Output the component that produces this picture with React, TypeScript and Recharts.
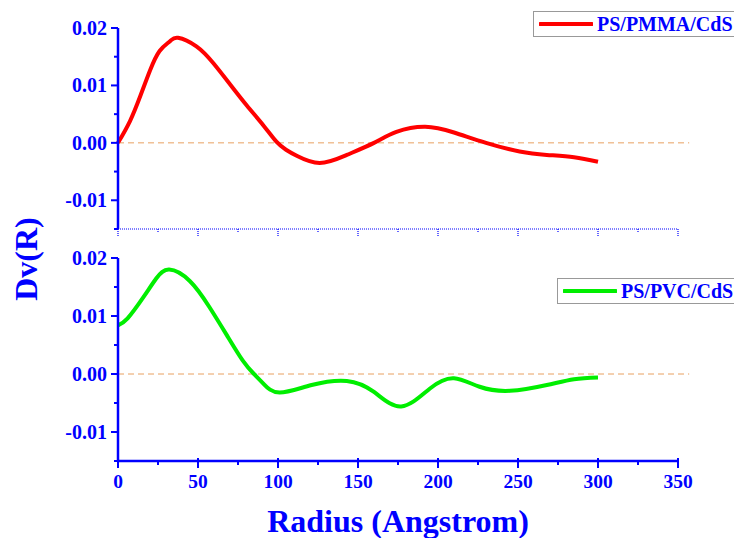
import React from 'react';
import { LineChart, Line, XAxis, YAxis, ReferenceLine, Legend } from 'recharts';

// radius (Angstrom) and Dv(R) values
const pmmaRadius = [0, 7.5, 14, 20, 26, 32.5, 37.5, 49, 59.5, 70, 80.5, 91, 99, 105, 112, 126, 143, 160, 174, 192, 210, 230, 251, 268, 285, 300];
const pmmaDv = [0, 0.0038, 0.0082, 0.0126, 0.016, 0.0177, 0.0183, 0.0168, 0.0139, 0.0102, 0.0065, 0.003, 0.0002, -0.0012, -0.0023, -0.0035, -0.0021, 0, 0.0019, 0.0028, 0.0018, 0, -0.0015, -0.0021, -0.0025, -0.0033];

const pvcRadius = [0, 6, 16, 24, 32, 45, 57, 68, 78, 85, 91, 101, 121, 143, 160, 177, 195, 210, 226, 245, 268, 285, 300];
const pvcDv = [0.0084, 0.0096, 0.0133, 0.0165, 0.018, 0.016, 0.0116, 0.0067, 0.0023, 0, -0.0017, -0.0032, -0.0019, -0.0012, -0.0031, -0.0056, -0.0025, -0.00075, -0.0022, -0.0029, -0.0019, -0.0009, -0.0006];

const xTicks = [0, 25, 50, 75, 100, 125, 150, 175, 200, 225, 250, 275, 300, 325, 350];
const yTicks = [-0.015, -0.01, -0.005, 0, 0.005, 0.01, 0.015, 0.02];

const pmmaData = pmmaRadius.map((r, i) => ({ r, dv: pmmaDv[i] }));
const pvcData = pvcRadius.map((r, i) => ({ r, dv: pvcDv[i] }));

const BLUE = '#0000ff';
const FONT = '"Liberation Serif", "Times New Roman", serif';

const isMajorY = (v: number) => Math.abs(v * 100 - Math.round(v * 100)) < 1e-6;

const YTick = (props: any) => {
  const { x, y, payload } = props;
  const major = isMajorY(payload.value);
  return (
    <g>
      <line x1={x - (major ? 7 : 4)} x2={x} y1={y} y2={y} stroke={BLUE} strokeWidth={2} />
      {major && (
        <text x={x - 11} y={y} dy="0.35em" textAnchor="end" fill={BLUE} fontFamily={FONT} fontWeight="bold" fontSize={20}>
          {payload.value.toFixed(2)}
        </text>
      )}
    </g>
  );
};

const XTick = (props: any) => {
  const { x, y, payload } = props;
  const major = payload.value % 50 === 0;
  return (
    <g>
      <line x1={x} x2={x} y1={y - (major ? 3 : 0)} y2={y + (major ? 7 : 4)} stroke={BLUE} strokeWidth={2} />
      {major && (
        <text x={x} y={y + 27} textAnchor="middle" fill={BLUE} fontFamily={FONT} fontWeight="bold" fontSize={19.5}>
          {payload.value}
        </text>
      )}
    </g>
  );
};

// top panel axis is dotted and carries no labels
const XTickDotted = (props: any) => {
  const { x, y, payload } = props;
  const major = payload.value % 50 === 0;
  return (
    <line x1={x} x2={x} y1={y} y2={y + (major ? 8 : 4)} stroke={BLUE} strokeWidth={1.2} strokeDasharray="1 1" />
  );
};

const LegendBox = ({ label, color }: { label: string; color: string }) => (
  <div
    style={{
      display: 'flex',
      alignItems: 'center',
      border: '1px solid #999',
      height: 24,
      padding: '0 6px 0 5px',
      background: '#fff',
      whiteSpace: 'nowrap',
    }}
  >
    <svg width={54} height={8} style={{ marginRight: 4 }}>
      <line x1={1} x2={53} y1={4} y2={4} stroke={color} strokeWidth={4} strokeLinecap="round" />
    </svg>
    <span style={{ color: BLUE, fontFamily: FONT, fontWeight: 'bold', fontSize: 20 }}>{label}</span>
  </div>
);

const App = () => {
  return (
    <div style={{ position: 'absolute', left: 0, top: 0, width: 734, height: 538, overflow: 'hidden', background: '#fff' }}>
      <div style={{ position: 'absolute', left: 0, top: 0 }}>
        <LineChart width={734} height={240} data={pmmaData} margin={{ top: 28, right: 56, bottom: 0, left: 58 }}>
          <XAxis
            dataKey="r"
            type="number"
            domain={[0, 350]}
            ticks={xTicks}
            interval={0}
            height={11}
            tickSize={0}
            tickMargin={0}
            tickLine={false}
            axisLine={{ stroke: BLUE, strokeWidth: 1.2, strokeDasharray: '1 1' }}
            tick={<XTickDotted />}
          />
          <YAxis
            type="number"
            domain={[-0.015, 0.02]}
            ticks={yTicks}
            interval={0}
            width={60}
            tickSize={0}
            tickMargin={0}
            tickLine={false}
            axisLine={{ stroke: BLUE, strokeWidth: 2.5 }}
            tick={<YTick />}
          />
          <ReferenceLine
            segment={[{ x: 0, y: 0 }, { x: 357, y: 0 }]}
            ifOverflow="visible"
            stroke="#e8a060"
            strokeDasharray="6 4"
            strokeWidth={1}
          />
          <Line dataKey="dv" type="natural" stroke="#ff0000" strokeWidth={4} dot={false} isAnimationActive={false} />
          <Legend
            layout="horizontal"
            align="center"
            verticalAlign="middle"
            wrapperStyle={{ left: 533, top: 11, width: 'auto' }}
            content={() => <LegendBox label="PS/PMMA/CdS" color="#ff0000" />}
          />
        </LineChart>
      </div>
      <div style={{ position: 'absolute', left: 0, top: 240 }}>
        <LineChart width={734} height={298} data={pvcData} margin={{ top: 18, right: 56, bottom: 37, left: 58 }}>
          <XAxis
            dataKey="r"
            type="number"
            domain={[0, 350]}
            ticks={xTicks}
            interval={0}
            height={40}
            tickSize={0}
            tickMargin={0}
            tickLine={false}
            axisLine={{ stroke: BLUE, strokeWidth: 2.5 }}
            tick={<XTick />}
          />
          <YAxis
            type="number"
            domain={[-0.015, 0.02]}
            ticks={yTicks}
            interval={0}
            width={60}
            tickSize={0}
            tickMargin={0}
            tickLine={false}
            axisLine={{ stroke: BLUE, strokeWidth: 2.5 }}
            tick={<YTick />}
          />
          <ReferenceLine
            segment={[{ x: 0, y: 0 }, { x: 357, y: 0 }]}
            ifOverflow="visible"
            stroke="#e8a060"
            strokeDasharray="6 4"
            strokeWidth={1}
          />
          <Line dataKey="dv" type="natural" stroke="#00ee00" strokeWidth={4} dot={false} isAnimationActive={false} />
          <Legend
            layout="horizontal"
            align="center"
            verticalAlign="middle"
            wrapperStyle={{ left: 557, top: 38, width: 'auto' }}
            content={() => <LegendBox label="PS/PVC/CdS" color="#00ee00" />}
          />
        </LineChart>
      </div>
      <div
        style={{
          position: 'absolute',
          left: 26,
          top: 259,
          transform: 'translate(-50%, -50%) rotate(-90deg)',
          color: BLUE,
          fontFamily: FONT,
          fontWeight: 'bold',
          fontSize: 32,
          whiteSpace: 'nowrap',
          lineHeight: 1,
        }}
      >
        Dv(R)
      </div>
      <div
        style={{
          position: 'absolute',
          left: 398,
          top: 505,
          transform: 'translateX(-50%)',
          color: BLUE,
          fontFamily: FONT,
          fontWeight: 'bold',
          fontSize: 32,
          whiteSpace: 'nowrap',
          lineHeight: 1,
        }}
      >
        Radius (Angstrom)
      </div>
    </div>
  );
};

export default App;
